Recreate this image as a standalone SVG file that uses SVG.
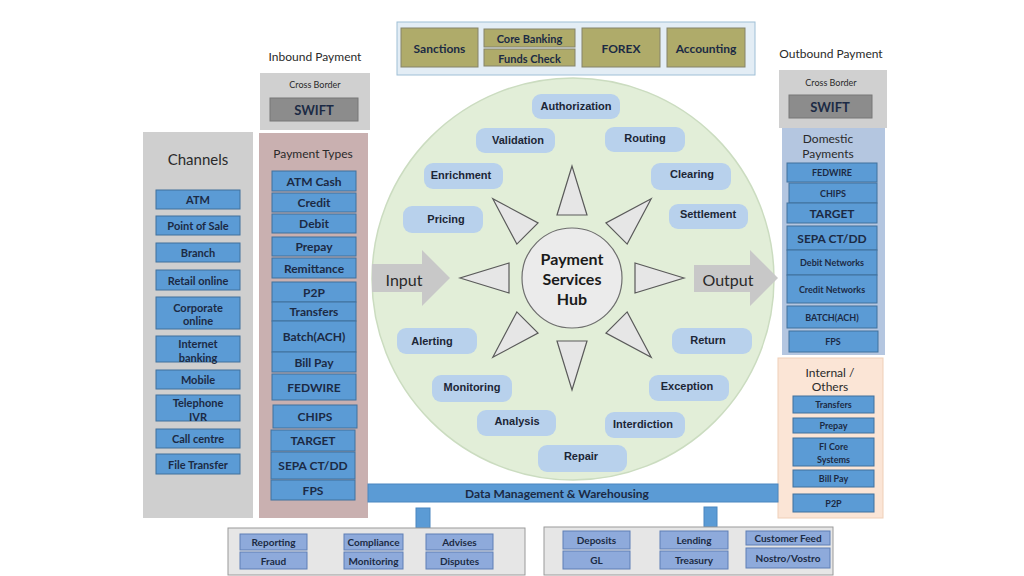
<svg xmlns="http://www.w3.org/2000/svg" width="1024" height="576" viewBox="0 0 1024 576">
<style>
.lb{font-family:Lato,"Liberation Sans",sans-serif;font-weight:bold;fill:#1b2a44;text-anchor:middle;dominant-baseline:central}
.lr{font-family:Lato,"Liberation Sans",sans-serif;fill:#2a2a2a;text-anchor:middle;dominant-baseline:central}
.bb{fill:#5b9bd5;stroke:#41719c;stroke-width:1}
.lbb{fill:#8eaadb;stroke:#5f7fb5;stroke-width:1}
.ol{fill:#afab6a;stroke:#85836a;stroke-width:1}
.pill{fill:#b8d1ec}
.pt{font-family:"Liberation Sans",Arial,sans-serif;font-weight:bold;font-size:11px;fill:#1c2636;text-anchor:middle;dominant-baseline:central}
.tri{fill:#e6e6e6;stroke:#5a5a5a;stroke-width:1.2}
.f11{font-size:11px}.f10{font-size:10px}.f9{font-size:9px}.f12{font-size:12px}
</style>
<defs>
<polygon id="tri" points="572,166 557,215 587,215" class="tri"/>
</defs>
<rect width="1024" height="576" fill="#ffffff"/>

<g id="top-services">
<rect x="397" y="22" width="358" height="53" fill="#e3edf5" stroke="#9fbfd6"/>
<rect x="401" y="28" width="77" height="39" class="ol"/><text x="439.5" y="48" class="lb f12">Sanctions</text>
<rect x="484" y="29" width="91" height="18" class="ol"/><text x="529.5" y="38.5" class="lb f11">Core Banking</text>
<rect x="484" y="49" width="91" height="17" class="ol"/><text x="529.5" y="58" class="lb f11">Funds  Check</text>
<rect x="582" y="28" width="78" height="39" class="ol"/><text x="621" y="48" class="lb f12">FOREX</text>
<rect x="667" y="28" width="78" height="39" class="ol"/><text x="706" y="48" class="lb f12">Accounting</text>
</g>

<g id="channels">
<rect x="143" y="132" width="110" height="386" fill="#cfcfcf"/>
<text x="198" y="159" class="lr" font-size="15">Channels</text>
<rect x="156" y="190" width="84" height="19" class="bb"/><text x="198" y="199.5" class="lb f11">ATM</text>
<rect x="156" y="216" width="84" height="19" class="bb"/><text x="198" y="225.5" class="lb f11">Point of Sale</text>
<rect x="156" y="243" width="84" height="19" class="bb"/><text x="198" y="252.5" class="lb f11">Branch</text>
<rect x="156" y="270" width="84" height="20" class="bb"/><text x="198" y="280" class="lb f11">Retail online</text>
<rect x="156" y="297" width="84" height="32" class="bb"/><text x="198" y="307" class="lb f11">Corporate</text><text x="198" y="320.5" class="lb f11">online</text>
<rect x="156" y="336" width="84" height="26" class="bb"/><text x="198" y="343" class="lb f11">Internet</text><text x="198" y="357" class="lb f11">banking</text>
<rect x="156" y="370" width="84" height="19" class="bb"/><text x="198" y="379.5" class="lb f11">Mobile</text>
<rect x="156" y="395" width="84" height="26" class="bb"/><text x="198" y="402" class="lb f11">Telephone</text><text x="198" y="416" class="lb f11">IVR</text>
<rect x="156" y="429" width="84" height="19" class="bb"/><text x="198" y="438.5" class="lb f11">Call centre</text>
<rect x="156" y="454" width="84" height="20" class="bb"/><text x="198" y="464" class="lb f11">File Transfer</text>
</g>

<g id="inbound">
<text x="315" y="56" class="lr f12">Inbound Payment</text>
<rect x="260" y="73" width="110" height="57" fill="#d0d0d0"/>
<text x="315" y="84" class="lr f9">Cross Border</text>
<rect x="270" y="98" width="88" height="23" fill="#8c8c8c" stroke="#777"/>
<text x="314" y="110" class="lb" font-size="13">SWIFT</text>
</g>

<g id="payment-types">
<rect x="259" y="133" width="109" height="385" fill="#c9b0b0"/>
<text x="313" y="153" class="lr f12">Payment Types</text>
<rect x="272" y="171" width="84" height="20" class="bb"/><text x="314" y="181" class="lb f12">ATM Cash</text>
<rect x="272" y="193" width="84" height="19" class="bb"/><text x="314" y="202.5" class="lb f12">Credit</text>
<rect x="272" y="214" width="84" height="19" class="bb"/><text x="314" y="223.5" class="lb f12">Debit</text>
<rect x="272" y="237" width="84" height="19" class="bb"/><text x="314" y="246.5" class="lb f12">Prepay</text>
<rect x="272" y="258" width="84" height="20" class="bb"/><text x="314" y="268" class="lb f12">Remittance</text>
<rect x="272" y="282" width="84" height="20" class="bb"/><text x="314" y="292" class="lb f12">P2P</text>
<rect x="272" y="302" width="84" height="19" class="bb"/><text x="314" y="311.5" class="lb f12">Transfers</text>
<rect x="272" y="321" width="84" height="31" class="bb"/><text x="314" y="336.5" class="lb f12">Batch(ACH)</text>
<rect x="272" y="352" width="84" height="20" class="bb"/><text x="314" y="362" class="lb f12">Bill Pay</text>
<rect x="272" y="374" width="84" height="26" class="bb"/><text x="314" y="387" class="lb f12">FEDWIRE</text>
<rect x="273" y="405" width="84" height="23" class="bb"/><text x="315" y="416.5" class="lb f12">CHIPS</text>
<rect x="271" y="430" width="84" height="21" class="bb"/><text x="313" y="440.5" class="lb f12">TARGET</text>
<rect x="271" y="452" width="84" height="27" class="bb"/><text x="313" y="465.5" class="lb f12">SEPA CT/DD</text>
<rect x="271" y="480" width="84" height="20" class="bb"/><text x="313" y="490" class="lb f12">FPS</text>
</g>

<g id="hub">
<circle cx="573" cy="279" r="201" fill="#e2eed8" stroke="#cbdcc0" stroke-width="1.5"/>
<use href="#tri"/>
<use href="#tri" transform="rotate(45 572 278)"/>
<use href="#tri" transform="rotate(90 572 278)"/>
<use href="#tri" transform="rotate(135 572 278)"/>
<use href="#tri" transform="rotate(180 572 278)"/>
<use href="#tri" transform="rotate(225 572 278)"/>
<use href="#tri" transform="rotate(270 572 278)"/>
<use href="#tri" transform="rotate(315 572 278)"/>
<circle cx="572" cy="278" r="50" fill="#ebebeb" stroke="#6e6e6e" stroke-width="1.2"/>
<text x="572" y="258" class="lb" font-size="16" style="fill:#1a1a1a">Payment</text>
<text x="572" y="278" class="lb" font-size="16" style="fill:#1a1a1a">Services</text>
<text x="572" y="298" class="lb" font-size="16" style="fill:#1a1a1a">Hub</text>
</g>

<g id="io-arrows">
<polygon points="372,264 422,264 422,250 450,278 422,306 422,292 372,292" fill="#c8c8c8"/>
<text x="404" y="279" class="lr" font-size="16">Input</text>
<polygon points="694,265 750,265 750,250 778,278 750,306 750,292 694,292" fill="#c8c8c8"/>
<text x="728" y="279" class="lr" font-size="16">Output</text>
</g>

<g id="services">
<rect x="532" y="94" width="88" height="25" rx="9" class="pill"/><text x="576" y="106" class="pt">Authorization</text>
<rect x="476" y="128" width="79" height="25" rx="9" class="pill"/><text x="518" y="140" class="pt">Validation</text>
<rect x="605" y="127" width="80" height="25" rx="9" class="pill"/><text x="645" y="138" class="pt">Routing</text>
<rect x="424" y="163" width="79" height="26" rx="9" class="pill"/><text x="461" y="175" class="pt">Enrichment</text>
<rect x="651" y="163" width="80" height="27" rx="9" class="pill"/><text x="692" y="174" class="pt">Clearing</text>
<rect x="403" y="206" width="80" height="27" rx="9" class="pill"/><text x="446" y="219" class="pt">Pricing</text>
<rect x="669" y="204" width="79" height="25" rx="9" class="pill"/><text x="708" y="214" class="pt">Settlement</text>
<rect x="397" y="328" width="80" height="26" rx="9" class="pill"/><text x="432" y="341" class="pt">Alerting</text>
<rect x="672" y="328" width="80" height="26" rx="9" class="pill"/><text x="708" y="340" class="pt">Return</text>
<rect x="432" y="375" width="80" height="27" rx="9" class="pill"/><text x="472" y="387" class="pt">Monitoring</text>
<rect x="649" y="375" width="80" height="26" rx="9" class="pill"/><text x="687" y="386" class="pt">Exception</text>
<rect x="477" y="410" width="79" height="26" rx="9" class="pill"/><text x="517" y="421" class="pt">Analysis</text>
<rect x="605" y="412" width="80" height="26" rx="9" class="pill"/><text x="643" y="424" class="pt">Interdiction</text>
<rect x="538" y="445" width="89" height="27" rx="9" class="pill"/><text x="581" y="456" class="pt">Repair</text>
</g>

<g id="outbound">
<text x="831" y="53" class="lr f12">Outbound Payment</text>
<rect x="779" y="70" width="108" height="58" fill="#d0d0d0"/>
<text x="831" y="82" class="lr f9">Cross Border</text>
<rect x="789" y="95" width="83" height="23" fill="#8c8c8c" stroke="#777"/>
<text x="830" y="107" class="lb" font-size="13">SWIFT</text>
</g>

<g id="domestic">
<rect x="782" y="128" width="103" height="227" fill="#b4c6e0"/>
<text x="828" y="138" class="lr f12">Domestic</text>
<text x="828" y="153" class="lr f12">Payments</text>
<rect x="787" y="163" width="90" height="19" class="bb"/><text x="832" y="172.5" class="lb f9">FEDWIRE</text>
<rect x="789" y="183" width="88" height="20" class="bb"/><text x="833" y="193" class="lb f9">CHIPS</text>
<rect x="787" y="203" width="90" height="20" class="bb"/><text x="832" y="213" class="lb f12">TARGET</text>
<rect x="787" y="226" width="90" height="24" class="bb"/><text x="832" y="238" class="lb f12">SEPA CT/DD</text>
<rect x="787" y="250" width="90" height="25" class="bb"/><text x="832" y="262" class="lb f9">Debit  Networks</text>
<rect x="787" y="275" width="90" height="28" class="bb"/><text x="832" y="289" class="lb f9">Credit Networks</text>
<rect x="787" y="306" width="90" height="22" class="bb"/><text x="832" y="317" class="lb f9">BATCH(ACH)</text>
<rect x="789" y="331" width="89" height="21" class="bb"/><text x="833" y="341.5" class="lb f9">FPS</text>
</g>

<g id="internal">
<rect x="778" y="358" width="105" height="160" fill="#fbe5d6" stroke="#efcfb8"/>
<text x="830" y="372" class="lr f12">Internal /</text>
<text x="830" y="386" class="lr f12">Others</text>
<rect x="793" y="396" width="81" height="17" class="bb"/><text x="833.5" y="404.5" class="lb f9">Transfers</text>
<rect x="793" y="418" width="81" height="15" class="bb"/><text x="833.5" y="425.5" class="lb f9">Prepay</text>
<rect x="793" y="438" width="81" height="28" class="bb"/><text x="833.5" y="446" class="lb f9">FI Core</text><text x="833.5" y="459" class="lb f9">Systems</text>
<rect x="793" y="470" width="81" height="17" class="bb"/><text x="833.5" y="478.5" class="lb f9">Bill Pay</text>
<rect x="793" y="494" width="81" height="18" class="bb"/><text x="833.5" y="503" class="lb f9">P2P</text>
</g>

<g id="data-management">
<rect x="368" y="484" width="410" height="18" fill="#5b9bd5" stroke="#4a86bf"/>
<text x="557" y="493" class="lb f12">Data Management &amp; Warehousing</text>
</g>

<g id="connectors">
<rect x="416" y="508" width="14" height="20" fill="#5b9bd5" stroke="#4a86bf"/>
<rect x="704" y="507" width="13" height="20" fill="#5b9bd5" stroke="#4a86bf"/>
</g>

<g id="bottom-left">
<rect x="228" y="528" width="297" height="47" fill="#e6e6e6" stroke="#9a9a9a"/>
<rect x="240" y="534" width="67" height="16" class="lbb"/><text x="273.5" y="542" class="lb f10">Reporting</text>
<rect x="240" y="552" width="67" height="17" class="lbb"/><text x="273.5" y="560.5" class="lb f10">Fraud</text>
<rect x="344" y="534" width="59" height="16" class="lbb"/><text x="373.5" y="542" class="lb f10">Compliance</text>
<rect x="344" y="552" width="59" height="17" class="lbb"/><text x="373.5" y="560.5" class="lb f10">Monitoring</text>
<rect x="426" y="534" width="67" height="16" class="lbb"/><text x="459.5" y="542" class="lb f10">Advises</text>
<rect x="426" y="552" width="67" height="17" class="lbb"/><text x="459.5" y="560.5" class="lb f10">Disputes</text>
</g>

<g id="bottom-right">
<rect x="544" y="527" width="289" height="48" fill="#e6e6e6" stroke="#9a9a9a"/>
<rect x="563" y="531" width="67" height="18" class="lbb"/><text x="596.5" y="540" class="lb f10">Deposits</text>
<rect x="563" y="551" width="67" height="18" class="lbb"/><text x="596.5" y="560" class="lb f10">GL</text>
<rect x="660" y="531" width="68" height="18" class="lbb"/><text x="694" y="540" class="lb f10">Lending</text>
<rect x="660" y="551" width="68" height="18" class="lbb"/><text x="694" y="560" class="lb f10">Treasury</text>
<rect x="746" y="531" width="84" height="14" class="lbb"/><text x="788" y="538" class="lb f10">Customer Feed</text>
<rect x="746" y="548" width="84" height="20" class="lbb"/><text x="788" y="558" class="lb f10">Nostro/Vostro</text>
</g>
</svg>
